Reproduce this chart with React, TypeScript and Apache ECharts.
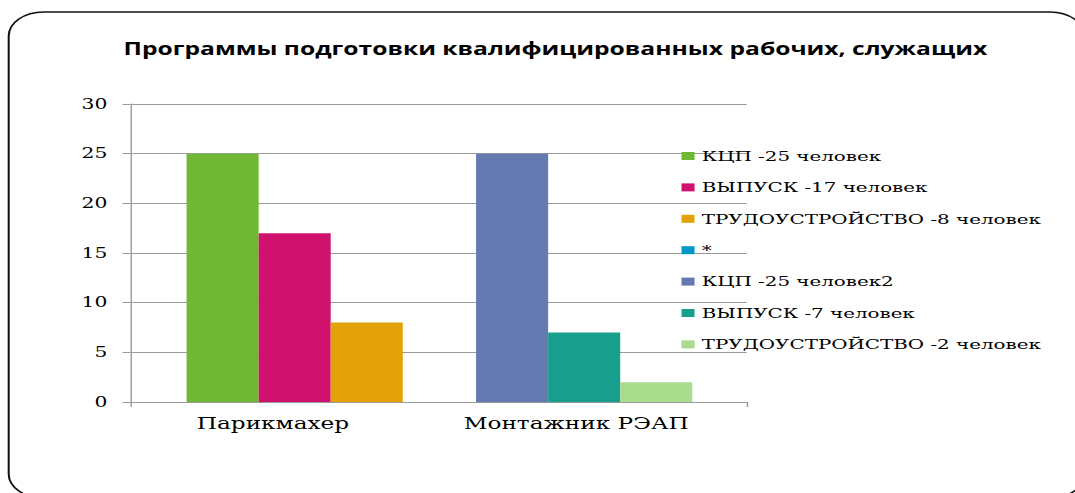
import React, { useEffect, useRef } from "react";
import * as echarts from "echarts";

const SX = 1.45;
const W = 742;
const H = 493;

const titleText = "Программы подготовки квалифицированных рабочих, служащих";
const categories = ["Парикмахер", "Монтажник РЭАП"];
const seriesNames = [
  "КЦП -25 человек",
  "ВЫПУСК -17 человек",
  "ТРУДОУСТРОЙСТВО -8 человек",
  "*",
  "КЦП -25 человек2",
  "ВЫПУСК -7 человек",
  "ТРУДОУСТРОЙСТВО -2 человек",
];
const kcp25 = [25, null];
const vypusk17 = [17, null];
const trud8 = [8, null];
const star = [null, null];
const kcp25b = [null, 25];
const vypusk7 = [null, 7];
const trud2 = [null, 2];
const seriesValues = [kcp25, vypusk17, trud8, star, kcp25b, vypusk7, trud2];
const seriesColors = ["#70B834", "#D0126E", "#E2A208", "#0098C8", "#667AB2", "#189E8C", "#A8DC8C"];
const seriesStacks = ["s1", "s2", "s3", "s1", "s1", "s2", "s3"];
const yTicks = { min: 0, max: 30, interval: 5 };

export default function App() {
  const ref = useRef<HTMLDivElement>(null);
  useEffect(() => {
    if (!ref.current) return;
    const chart = echarts.init(ref.current, null, { renderer: "svg" });
    const gray = "#9a9a9a";
    const serif = "DejaVu Serif";
    chart.setOption({
      animation: false,
      graphic: [
        {
          type: "rect",
          shape: { x: 6, y: 12, width: 742, height: 486, r: 24 },
          style: { fill: "none", stroke: "#111", lineWidth: 1.4 },
          silent: true,
        },
        {
          type: "text",
          x: 383,
          y: 48,
          style: {
            text: titleText,
            fontSize: 17,
            fontWeight: "bold",
            fontFamily: "Open Sans",
            fill: "#000",
            align: "center",
            verticalAlign: "middle",
          },
        },
      ],
      legend: {
        orient: "vertical",
        left: 470,
        top: 149,
        padding: 0,
        itemGap: 17.4,
        itemWidth: 9,
        itemHeight: 8,
        icon: "rect",
        data: seriesNames,
        textStyle: { fontFamily: serif, fontSize: 13.7, color: "#000" },
      },
      grid: [
        { left: 90, right: W - 515, top: 104, bottom: H - 402, containLabel: false },
        { left: 103.4, width: 399.3, top: 104, bottom: H - 402, containLabel: false },
      ],
      xAxis: [
        {
          type: "value",
          gridIndex: 0,
          min: 0,
          max: 2,
          interval: 2,
          axisLine: { show: true, lineStyle: { color: gray } },
          axisTick: { show: true, inside: false, length: 5, lineStyle: { color: gray } },
          axisLabel: { show: false },
          splitLine: { show: false },
        },
        {
          type: "category",
          gridIndex: 1,
          data: categories,
          boundaryGap: true,
          axisLine: { show: false },
          axisTick: { show: false },
          axisLabel: {
            interval: 0,
            hideOverlap: false,
            margin: 14,
            fontFamily: serif,
            fontSize: 16,
            color: "#000",
            formatter: (v: string, i: number) => (i === 0 ? `{a|${v}}` : `{b|${v}}`),
            rich: {
              a: { fontFamily: serif, fontSize: 16, color: "#000", padding: [0, 30, 0, 0] },
              b: { fontFamily: serif, fontSize: 16, color: "#000", padding: [0, 11, 0, 0] },
            },
          },
        },
      ],
      yAxis: [
        {
          type: "value",
          gridIndex: 0,
          ...yTicks,
          axisLine: { show: true, lineStyle: { color: gray } },
          axisTick: { show: true, inside: false, length: 5.5, lineStyle: { color: gray } },
          axisLabel: { margin: 16, fontFamily: serif, fontSize: 14, color: "#000" },
          splitLine: { show: true, lineStyle: { color: gray, width: 1 } },
        },
        {
          type: "value",
          gridIndex: 1,
          ...yTicks,
          show: false,
          splitLine: { show: false },
        },
      ],
      series: seriesNames.map((name, i) => ({
        name,
        type: "bar",
        xAxisIndex: 1,
        yAxisIndex: 1,
        stack: seriesStacks[i],
        data: seriesValues[i].map((v) => (v === null ? "-" : v)),
        barWidth: 49.7,
        barGap: "0%",
        itemStyle: { color: seriesColors[i] },
      })),
      color: seriesColors,
    });
    return () => chart.dispose();
  }, []);
  return (
    <div
      ref={ref}
      style={{
        position: "fixed",
        left: 0,
        top: 0,
        width: W,
        height: H,
        transform: `scaleX(${SX})`,
        transformOrigin: "0 0",
        background: "#fff",
      }}
    />
  );
}
